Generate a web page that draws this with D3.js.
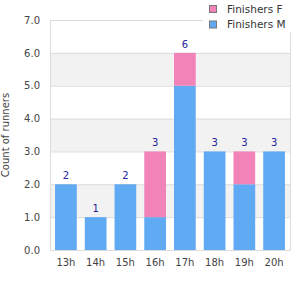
<!DOCTYPE html>
<html>
<head>
<meta charset="utf-8">
<script src="https://cdn.jsdelivr.net/npm/d3@7"></script>
<style>
  body { margin: 0; background: #fff; }
  text { font-family: "DejaVu Sans", sans-serif; }
</style>
</head>
<body>
<div id="container"></div>
<script>
/* DATA */
const hours = ["13h", "14h", "15h", "16h", "17h", "18h", "19h", "20h"];
const finishersM = [2, 1, 2, 1, 5, 3, 2, 3];
const finishersF = [0, 0, 0, 2, 1, 0, 1, 0];
const yTicks = [0, 1, 2, 3, 4, 5, 6, 7];
const seriesNames = ["Finishers M", "Finishers F"];

/* CONSTANTS */
const width = 300, height = 300,
  margin = { top: 20, bottom: 50, left: 50, right: 10 };
const colors = { "Finishers M": "#60a9f3", "Finishers F": "#f283b9" };

const rows = hours.map((h, i) => ({ hour: h, "Finishers M": finishersM[i], "Finishers F": finishersF[i] }));
const stacked = d3.stack().keys(seriesNames)(rows);

const xScale = d3.scaleBand()
  .domain(hours)
  .range([margin.left, width - margin.right])
  .paddingInner(0.27)
  .paddingOuter(0.17);

const yScale = d3.scaleLinear()
  .domain([0, 7])
  .range([height - margin.bottom, margin.top]);

const svg = d3.select("#container")
  .append("svg")
  .attr("width", width)
  .attr("height", height);

// alternating bands
svg.append("g")
  .selectAll("rect")
  .data(yTicks.slice(0, -1).filter(d => d % 2 === 1))
  .join("rect")
  .attr("x", margin.left)
  .attr("width", width - margin.right - margin.left)
  .attr("y", d => yScale(d + 1))
  .attr("height", d => yScale(d) - yScale(d + 1))
  .attr("fill", "#f2f2f2");

// grid lines
svg.append("g")
  .selectAll("line")
  .data(yTicks)
  .join("line")
  .attr("x1", margin.left)
  .attr("x2", width - margin.right)
  .attr("y1", d => yScale(d) + 0.5)
  .attr("y2", d => yScale(d) + 0.5)
  .attr("stroke", "#dcdcdc");

// frame sides
svg.append("g")
  .selectAll("line")
  .data([margin.left, width - margin.right])
  .join("line")
  .attr("x1", d => d + 0.5)
  .attr("x2", d => d + 0.5)
  .attr("y1", margin.top)
  .attr("y2", height - margin.bottom + 1)
  .attr("stroke", "#dcdcdc");

// bars
svg.append("g")
  .selectAll("g")
  .data(stacked)
  .join("g")
  .attr("fill", d => colors[d.key])
  .selectAll("rect")
  .data(d => d)
  .join("rect")
  .attr("x", d => xScale(d.data.hour))
  .attr("width", xScale.bandwidth())
  .attr("y", d => yScale(d[1]))
  .attr("height", d => yScale(d[0]) - yScale(d[1]));

// total labels
svg.append("g")
  .selectAll("text")
  .data(rows)
  .join("text")
  .attr("x", d => xScale(d.hour) + xScale.bandwidth() / 2)
  .attr("y", d => yScale(d["Finishers M"] + d["Finishers F"]) - 5)
  .attr("text-anchor", "middle")
  .attr("font-size", 10)
  .attr("fill", "#22229a")
  .text(d => d["Finishers M"] + d["Finishers F"]);

// axes
const yAxis = d3.axisLeft(yScale).tickValues(yTicks).tickFormat(d3.format(".1f")).tickSize(0).tickPadding(10);
svg.append("g")
  .attr("transform", `translate(${margin.left},0)`)
  .call(yAxis)
  .call(g => g.select(".domain").remove())
  .selectAll("text")
  .attr("font-size", 10)
  .attr("font-family", "DejaVu Sans, sans-serif")
  .attr("fill", "#444");

const xAxis = d3.axisBottom(xScale).tickSize(0).tickPadding(9);
svg.append("g")
  .attr("transform", `translate(0,${height - margin.bottom})`)
  .call(xAxis)
  .call(g => g.select(".domain").remove())
  .selectAll("text")
  .attr("font-size", 10)
  .attr("font-family", "DejaVu Sans, sans-serif")
  .attr("fill", "#444");

// y title
svg.append("text")
  .attr("transform", `translate(9,${(margin.top + height - margin.bottom) / 2}) rotate(-90)`)
  .attr("text-anchor", "middle")
  .attr("font-size", 10)
  .attr("fill", "#444")
  .text("Count of runners");

// legend
const legend = svg.append("g");
legend.append("rect")
  .attr("x", 203).attr("y", 0)
  .attr("width", 97).attr("height", 32)
  .attr("fill", "#fff");
const legendItems = legend.selectAll("g")
  .data(["Finishers F", "Finishers M"])
  .join("g")
  .attr("transform", (d, i) => `translate(209,${5 + i * 15.5})`);
legendItems.append("rect")
  .attr("x", 0.5).attr("y", 0.5)
  .attr("width", 7).attr("height", 7)
  .attr("fill", d => colors[d])
  .attr("stroke", "#777");
legendItems.append("text")
  .attr("x", 18)
  .attr("y", 7.5)
  .attr("font-size", 10.5)
  .attr("fill", "#333")
  .text(d => d);
</script>
</body>
</html>
